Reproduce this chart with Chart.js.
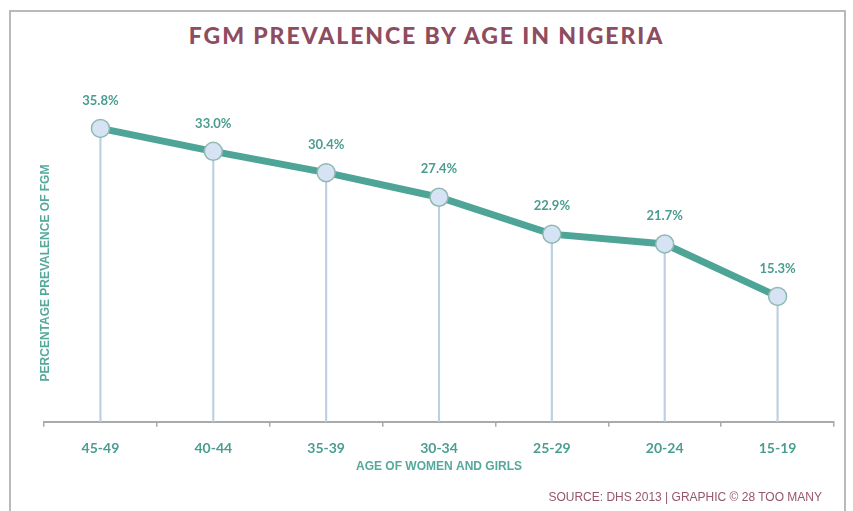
<!DOCTYPE html>
<html>
<head>
<meta charset="utf-8">
<script src="https://cdn.jsdelivr.net/npm/chart.js@4"></script>
<style>
  html, body { margin: 0; padding: 0; background: #fff; }
  #wrap { position: absolute; left: 0; top: 0; width: 853px; height: 511px; }
  #frame { position: absolute; left: 9px; top: 10px; width: 837px; height: 510px;
           border: 2px solid #b9b9b9; border-bottom: none; box-sizing: border-box; }
  #title { position: absolute; left: 0; width: 853px; top: 21px; text-align: center;
           font-family: Lato, sans-serif; font-weight: 900; font-size: 23px; letter-spacing: 1.9px;
           color: #8e4d5f; }
  #source { position: absolute; right: 31px; top: 490px; font-family: "Liberation Sans", Arial, sans-serif;
            font-size: 12px; color: #95566a; }
  #cv { position: absolute; left: 0; top: 0; }
</style>
</head>
<body>
<div id="wrap">
  <div id="frame"></div>
  <div id="title">FGM PREVALENCE BY AGE IN NIGERIA</div>
  <canvas id="cv" width="853" height="511"></canvas>
  <div id="source">SOURCE: DHS 2013 | GRAPHIC © 28 TOO MANY</div>
</div>
<script>
const categories = ["45-49", "40-44", "35-39", "30-34", "25-29", "20-24", "15-19"];
const prevalence = [35.8, 33.0, 30.4, 27.4, 22.9, 21.7, 15.3];
const valueLabels = ["35.8%", "33.0%", "30.4%", "27.4%", "22.9%", "21.7%", "15.3%"];
const xTitle = "AGE OF WOMEN AND GIRLS";
const yTitle = "PERCENTAGE PREVALENCE OF FGM";

const teal = "#4ea597";
const labelTeal = "#4a9d90";

const extras = {
  id: "extras",
  afterDatasetsDraw(chart) {
    const ctx = chart.ctx;
    const meta = chart.getDatasetMeta(1);
    ctx.save();
    ctx.fillStyle = labelTeal;
    ctx.font = "bold 13px Lato, sans-serif";
    ctx.textAlign = "center";
    ctx.textBaseline = "middle";
    meta.data.forEach((pt, i) => {
      ctx.fillText(valueLabels[i], pt.x, pt.y - 28);
    });
    // y axis title
    ctx.translate(46, 273);
    ctx.rotate(-Math.PI / 2);
    ctx.font = "bold 12px 'Liberation Sans', Arial, sans-serif";
    ctx.fillStyle = "#55a99c";
    ctx.fillText(yTitle, 0, 0);
    ctx.restore();
  }
};

new Chart(document.getElementById("cv"), {
  data: {
    labels: categories,
    datasets: [
      {
        type: "bar",
        data: prevalence,
        backgroundColor: "#bcd0e2",
        barThickness: 1.5,
        order: 2
      },
      {
        type: "line",
        data: prevalence,
        borderColor: teal,
        borderWidth: 7,
        pointRadius: 9,
        pointBackgroundColor: "#d5e3f4",
        pointBorderColor: "#8fb9b1",
        pointBorderWidth: 1.5,
        tension: 0,
        order: 1
      }
    ]
  },
  options: {
    responsive: false,
    animation: false,
    events: [],
    layout: { padding: { left: 44, right: 19, top: 94, bottom: 37 } },
    plugins: { legend: { display: false }, tooltip: { enabled: false } },
    scales: {
      x: {
        offset: true,
        grid: { display: true, offset: true, drawOnChartArea: false, drawTicks: true, tickLength: 5, color: "#aaaaaa", lineWidth: 1.5 },
        border: { display: true, color: "#aaaaaa", width: 2 },
        ticks: { color: labelTeal, font: { family: "Lato", weight: "bold", size: 14 }, padding: 13 },
        title: { display: true, text: xTitle, color: "#55a99c", font: { family: "'Liberation Sans', Arial", weight: "bold", size: 12 }, padding: { top: -10, bottom: 0 } }
      },
      y: {
        display: false,
        min: 0,
        max: 40
      }
    }
  },
  plugins: [extras]
});
</script>
</body>
</html>
